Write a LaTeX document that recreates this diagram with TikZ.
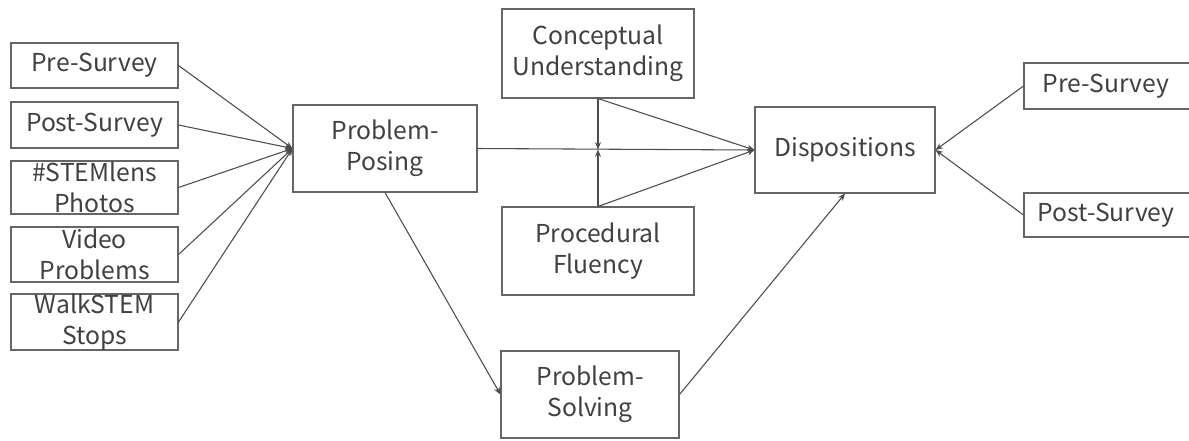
\documentclass[tikz,border=0pt]{standalone}
\usepackage{fontspec}
\setmainfont{Noto Sans CJK SC}
\usetikzlibrary{arrows.meta}

\begin{document}
\begin{tikzpicture}[x=0.75pt,y=-0.75pt,->,>={Stealth[length=5.5pt,width=4.5pt]},line width=0.8pt,draw=black!70,
  box/.style={rectangle,draw=black!60,inner sep=0pt,align=center,text=black!75,font=\fontsize{18.5}{23}\selectfont}]
  \useasboundingbox (0,0) rectangle (1189,440);

  \node[box,minimum width=125.25pt,minimum height=33.75pt] (pre1) at (94.5,65.5) {Pre-Survey};
  \node[box,minimum width=125.25pt,minimum height=34.5pt] (post1) at (94.5,125) {Post-Survey};
  \node[box,minimum width=125.25pt,minimum height=39.75pt] (lens) at (94.5,187.5) {\#STEMlens\\Photos};
  \node[box,minimum width=125.25pt,minimum height=41.25pt] (video) at (94.5,254.5) {Video\\Problems};
  \node[box,minimum width=125.25pt,minimum height=42pt] (walk) at (94.5,322) {WalkSTEM\\Stops};
  \node[box,minimum width=138pt,minimum height=65.25pt] (posing) at (385,148.5) {Problem-\\Posing};
  \node[box,minimum width=144pt,minimum height=66.75pt] (concept) at (598,53.5) {Conceptual\\Understanding};
  \node[box,minimum width=144pt,minimum height=66pt] (proc) at (598,251) {Procedural\\Fluency};
  \node[box,minimum width=133.5pt,minimum height=65.25pt] (solving) at (590,394.5) {Problem-\\Solving};
  \node[box,minimum width=135pt,minimum height=64.5pt] (disp) at (845,150) {Dispositions};
  \node[box,minimum width=135pt,minimum height=34.5pt] (pre2) at (1114,86) {\hspace*{-12pt}Pre-Survey};
  \node[box,minimum width=135pt,minimum height=33pt] (post2) at (1114,215) {\hspace*{-12pt}Post-Survey};
  \coordinate (meet) at (598,149.5);

\path
  (pre1.east) edge (posing.west)
  (post1.east) edge (posing.west)
  (lens.east) edge (posing.west)
  (video.east) edge (posing.west)
  (walk.east) edge (posing.west)
  (posing.east) edge (disp.west)
  (concept.south) edge (meet)
  (proc.north) edge (meet)
  (concept.south) edge (disp.west)
  (proc.north) edge (disp.west)
  (posing.south) edge (solving.west)
  (solving.east) edge (disp.south)
  (pre2.west) edge (disp.east)
  (post2.west) edge (disp.east)
;
\end{tikzpicture}
\end{document}
